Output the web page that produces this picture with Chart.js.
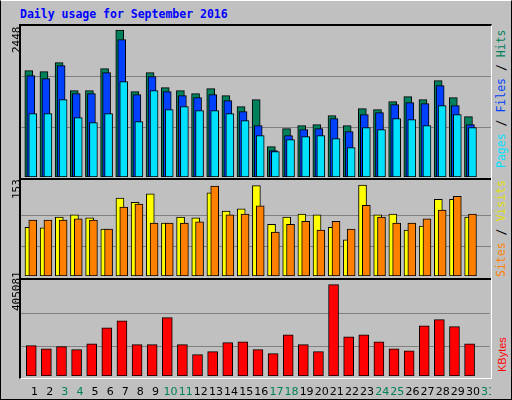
<!DOCTYPE html>
<html><head><meta charset="utf-8">
<script src="https://cdn.jsdelivr.net/npm/chart.js"></script>
<style>
body{margin:0;background:#c0c0c0;}
#frame{position:absolute;left:0;top:0;width:510px;height:398px;border-left:1px solid #000;border-top:1px solid #fff;border-right:1px solid #000;border-bottom:1px solid #000;background:#c0c0c0;}
#box{position:absolute;left:19px;top:24px;width:470px;height:352px;border-left:2px solid #000;border-top:2px solid #000;border-right:1px solid #fff;border-bottom:1px solid #fff;}
.sep{position:absolute;left:21px;width:470px;height:2px;background:#000;}
canvas{position:absolute;}
.t{position:absolute;font-family:"DejaVu Sans Mono",monospace;white-space:nowrap;transform-origin:0 0;transform:rotate(-90deg);line-height:13px;}
#title{position:absolute;left:20px;top:7px;font:bold 11.5px "DejaVu Sans Mono",monospace;color:#0000ff;}
</style></head><body>
<div id="frame"></div>
<div id="box"></div>
<div id="title">Daily usage for September 2016</div>
<canvas id="c1" width="470" height="151" style="left:21px;top:26px"></canvas>
<canvas id="c2" width="470" height="96" style="left:21px;top:180px"></canvas>
<canvas id="c3" width="470" height="118" style="left:21px;top:280px"></canvas>
<div class="sep" style="top:178px"></div>
<div class="sep" style="top:278px"></div>
<div class="t" style="left:10px;top:53px;font-size:11px">2448</div>
<div class="t" style="left:10px;top:199px;font-size:11px">153</div>
<div class="t" style="left:10px;top:311px;font-size:11px">405081</div>
<div class="t" style="left:495px;top:168px;font-size:11.5px"><span style="color:#00e0ff">Pages</span><span style="color:#000"> / </span><span style="color:#0040ff">Files</span><span style="color:#000"> / </span><span style="color:#00805c">Hits</span></div>
<div class="t" style="left:495px;top:277px;font-size:11.5px"><span style="color:#ff8000">Sites</span><span style="color:#000"> / </span><span style="color:#e0e000">Visits</span></div>
<div class="t" style="left:496px;top:372px;font-size:11px;font-family:'Liberation Sans',sans-serif;color:#ff0000">KBytes</div>
<script>
const days=['1','2','3','4','5','6','7','8','9','10','11','12','13','14','15','16','17','18','19','20','21','22','23','24','25','26','27','28','29','30','31'];
const weekends=['3','4','10','11','17','18','24','25','31'];
const hits=[1772,1755,1905,1439,1439,1805,2448,1422,1738,1489,1439,1389,1472,1355,1172,1289,506,806,856,873,1022,856,1139,1122,1255,1339,1289,1605,1322,1006,0];
const files=[1689,1638,1855,1389,1389,1738,2288,1372,1672,1422,1355,1322,1372,1272,1089,856,440,689,789,806,972,756,1039,1072,1205,1239,1222,1522,1189,873,0];
const pages=[1056,1056,1289,989,906,1056,1588,922,1439,1122,1172,1106,1106,1056,939,689,423,623,673,689,639,489,823,789,972,956,856,1189,1039,823,0];
const visits=[82,81,99,103,98,79,131,124,138,89,99,98,140,109,113,152,87,99,104,103,82,61,153,103,104,77,84,129,129,99,0];
const sites=[94,94,94,96,94,79,116,121,89,89,89,91,151,103,104,118,74,87,92,77,92,79,119,99,89,89,96,111,134,104,0];
const kbytes=[134500,121000,130000,117000,143000,214000,245000,139000,139000,259000,139000,95000,108000,148000,152000,117000,99000,183000,139000,108000,405081,174000,183000,152000,121000,112000,223000,250000,219000,143000,0];

const shiftPlugin={id:'shift',
 beforeDatasetDraw(ch,a){const s=ch.data.datasets[a.index].shift||0;ch.ctx.save();ch.ctx.translate(s,0);},
 afterDatasetDraw(ch){ch.ctx.restore();}};
function ds(data,color,w,shift){return {data,backgroundColor:color,borderColor:'#000',borderWidth:1,borderSkipped:false,barThickness:w,grouped:false,shift};}
function make(id,sets,max,grid,showX){
 new Chart(document.getElementById(id),{type:'bar',data:{labels:days,datasets:sets},
 plugins:[shiftPlugin],
 options:{responsive:false,animation:false,events:[],layout:{padding:0},
  plugins:{legend:{display:false},tooltip:{enabled:false}},
  scales:{
   x:{display:showX,grid:{display:false},border:{display:false},
      ticks:{labelOffset:6,padding:2,autoSkip:false,maxRotation:0,font:{family:'DejaVu Sans',size:11},
        color:c=>weekends.includes(days[c.index])?'#00805c':'#000'},
      afterFit:s=>{if(showX) s.height=22;}},
   y:{min:0,max:max,border:{display:false},
      afterBuildTicks:s=>{s.ticks=grid.map(v=>({value:v}));},
      grid:{color:'#808080',lineWidth:1,drawTicks:false},ticks:{display:false},
      afterFit:s=>{s.width=0;}}
  }}});
}
make('c1',[ds(pages,'#00e0ff',8,4.2),ds(files,'#0040ff',8,2.2),ds(hits,'#00805c',8,0.2)].map((d,i)=>Object.assign(d,{order:i})),2514,[827,1677],false);
make('c2',[ds(sites,'#ff8000',8,4.2),ds(visits,'#ffff00',8,0.4)].map((d,i)=>Object.assign(d,{order:i})),161.4,[50.4,100.9],false);
make('c3',[ds(kbytes,'#ff0000',10,2.7)],425950,[130400,278200],true);
</script>
</body></html>
